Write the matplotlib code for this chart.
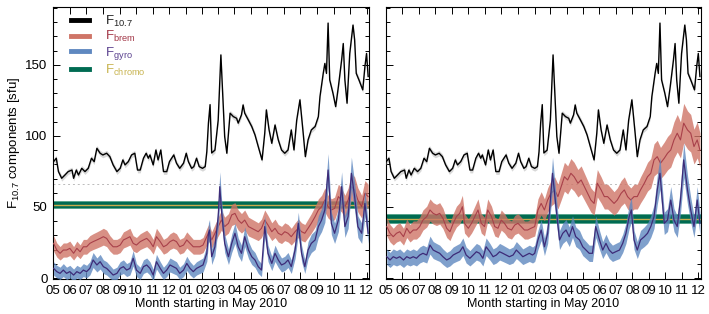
import matplotlib
matplotlib.use("Agg")
import matplotlib.pyplot as plt
from matplotlib.lines import Line2D
import numpy as np

plt.rcParams["font.family"] = ["Liberation Sans", "DejaVu Sans"]
plt.rcParams["mathtext.fontset"] = "custom"
plt.rcParams["mathtext.rm"] = "Liberation Sans"
plt.rcParams["mathtext.it"] = "Liberation Sans"

# ---- data (days since 1 May 2010, values in sfu) ----
f107_days = [1, 6, 10, 16, 22, 28, 35, 38, 43, 47, 53, 59, 65, 71, 76, 81, 87, 92, 99, 105,
             111, 118, 124, 129, 133, 139, 145, 151, 156, 161, 167, 172, 176, 179, 185, 190, 194, 199, 204, 210,
             215, 219, 223, 228, 234, 241, 246, 250, 256, 260, 265, 270, 276, 281, 284, 287, 290, 293, 299, 305,
             310, 317, 321, 327, 333, 339, 342, 348, 351, 354, 361, 367, 373, 379, 386, 391, 394, 399, 404, 410,
             416, 422, 428, 434, 440, 445, 450, 456, 462, 466, 471, 477, 484, 490, 493, 499, 502, 505, 508, 511,
             517, 522, 527, 533, 536, 539, 543, 548, 554, 557, 560, 565, 572, 576, 579, 582]
f107_vals = [81.9, 84.3, 74.9, 70.2, 72.5, 74.9, 76.0, 70.2, 76.0, 72.5, 77.2, 74.9, 77.2, 84.3, 81.9, 91.3, 87.8, 86.6, 87.8, 85.4,
             79.6, 74.9, 77.2, 83.1, 79.6, 81.9, 86.6, 87.8, 76.0, 76.0, 84.3, 87.8, 84.3, 86.6, 79.6, 90.1, 83.1, 90.1, 74.9, 74.9,
             81.9, 84.3, 86.6, 80.8, 77.2, 80.8, 87.8, 81.9, 77.2, 78.4, 84.3, 78.4, 77.2, 78.4, 88.9, 109.0, 122.0, 88.0, 90.0, 111.0,
             157.0, 99.5, 87.8, 116.0, 113.6, 112.4, 109.0, 114.8, 121.8, 116.0, 111.0, 106.6, 100.7, 92.5, 83.1, 101.9, 118.3, 104.2, 94.8, 107.7,
             97.2, 90.1, 87.8, 90.1, 104.2, 90.1, 111.0, 125.4, 101.9, 85.4, 97.2, 104.2, 106.6, 113.6, 127.7, 144.0, 151.0, 144.0, 179.4, 139.4,
             130.0, 120.6, 134.7, 153.5, 165.0, 139.4, 123.0, 158.0, 178.0, 167.6, 144.0, 139.4, 132.4, 148.8, 158.0, 141.8]

brem_left_days = [1, 7, 13, 19, 25, 31, 38, 44, 50, 56, 62, 68, 74, 81, 87, 93, 99, 105, 111, 118,
                  124, 130, 136, 142, 148, 154, 161, 167, 173, 179, 185, 191, 198, 204, 210, 216, 222, 228, 234, 241,
                  247, 253, 259, 265, 271, 277, 284, 288, 293, 299, 305, 311, 317, 324, 330, 336, 342, 348, 354, 361,
                  367, 373, 379, 385, 391, 397, 404, 410, 416, 422, 428, 434, 440, 447, 453, 459, 465, 471, 477, 484,
                  490, 496, 502, 508, 514, 520, 527, 533, 539, 545, 551, 557, 563, 570, 576, 582]
brem_left = [24.4, 19.7, 17.4, 19.7, 19.7, 20.9, 17.4, 20.9, 18.5, 22.0, 22.0, 24.4, 25.6, 26.8, 27.9, 29.1, 27.9, 24.4, 22.0, 22.0,
             23.2, 26.8, 27.9, 29.1, 24.4, 23.2, 25.6, 26.8, 27.9, 25.6, 22.0, 29.1, 25.6, 22.0, 23.2, 25.6, 26.8, 25.6, 22.0, 23.2,
             26.8, 24.4, 22.0, 22.0, 22.0, 23.2, 29.1, 32.0, 26.8, 31.5, 36.2, 40.8, 36.2, 38.5, 44.4, 45.5, 40.8, 38.5, 40.8, 36.2,
             35.0, 33.8, 32.6, 35.0, 40.8, 37.3, 32.6, 35.0, 31.5, 30.3, 32.6, 31.5, 29.1, 32.6, 35.0, 32.6, 31.5, 35.0, 38.5, 43.2,
             47.9, 50.2, 54.9, 50.2, 47.9, 49.0, 57.3, 54.9, 50.2, 54.9, 64.3, 62.0, 54.9, 50.2, 59.6, 57.3]

gyro_left_days = [1, 7, 13, 19, 25, 31, 38, 44, 50, 56, 62, 68, 74, 81, 87, 93, 99, 105, 111, 118,
                  124, 130, 136, 142, 148, 154, 161, 167, 173, 179, 185, 191, 198, 204, 210, 216, 222, 228, 234, 241,
                  247, 253, 259, 265, 271, 277, 284, 287, 289, 293, 299, 305, 308, 311, 317, 324, 330, 336, 342, 348,
                  354, 361, 367, 373, 379, 385, 391, 397, 404, 410, 416, 422, 428, 434, 440, 447, 453, 459, 465, 471,
                  477, 484, 490, 496, 502, 508, 514, 520, 527, 533, 539, 545, 551, 557, 563, 570, 576, 582]
gyro_left = [6.8, 4.5, 3.3, 5.6, 3.3, 4.5, 2.1, 4.5, 3.3, 5.6, 4.5, 6.8, 12.7, 9.2, 11.5, 8.0, 6.8, 4.5, 2.1, 3.3,
             6.8, 8.0, 5.6, 6.8, 13.9, 5.6, 3.3, 8.0, 9.2, 6.8, 2.1, 11.5, 6.8, 3.3, 5.6, 9.2, 8.0, 6.8, 3.3, 5.6,
             10.3, 6.8, 4.5, 6.8, 8.0, 9.2, 17.4, 31.5, 33.8, 15.0, 22.0, 43.2, 64.3, 47.9, 24.4, 15.0, 24.4, 31.5, 22.0, 17.4,
             29.1, 19.7, 15.0, 12.7, 8.0, 5.6, 36.2, 17.4, 10.3, 17.4, 12.7, 9.2, 10.3, 12.7, 8.0, 19.7, 38.5, 17.4, 8.0, 19.7,
             24.4, 26.8, 36.2, 40.8, 47.9, 76.0, 38.5, 31.5, 40.8, 64.3, 36.2, 43.2, 73.7, 57.3, 36.2, 31.5, 52.5, 31.5]

brem_right_days = [2, 8, 14, 20, 26, 33, 39, 45, 51, 57, 63, 69, 76, 82, 88, 94, 100, 106, 113, 119,
                   125, 131, 137, 142, 146, 153, 159, 165, 171, 177, 183, 189, 196, 202, 208, 214, 220, 226, 233, 239,
                   245, 251, 257, 263, 269, 276, 282, 288, 294, 300, 306, 313, 319, 325, 331, 337, 343, 349, 356, 362,
                   368, 374, 380, 386, 392, 399, 405, 411, 417, 423, 429, 436, 442, 448, 454, 460, 466, 472, 479, 485,
                   491, 497, 503, 509, 516, 522, 528, 534, 540, 546, 552, 559, 565, 571, 577, 582]
brem_right = [36.2, 31.5, 29.1, 31.5, 32.6, 29.1, 35.0, 31.5, 33.8, 33.8, 36.2, 40.8, 43.2, 47.9, 45.5, 44.4, 45.5, 42.0, 35.0, 32.6,
              38.5, 43.2, 45.5, 50.2, 38.5, 35.0, 38.5, 43.2, 47.9, 38.5, 36.2, 47.9, 43.2, 36.2, 35.0, 40.8, 38.5, 35.0, 33.8, 37.3,
              38.5, 36.2, 33.8, 33.8, 35.0, 36.2, 47.9, 52.5, 47.9, 54.9, 59.6, 62.0, 57.3, 64.3, 71.3, 69.0, 73.7, 71.3, 66.7, 69.0,
              64.3, 59.6, 54.9, 52.5, 66.7, 62.0, 57.3, 57.3, 54.9, 52.5, 54.9, 59.6, 62.0, 57.3, 54.9, 57.3, 57.3, 62.0, 66.7, 71.3,
              73.7, 83.1, 85.4, 80.8, 84.3, 87.8, 90.1, 97.2, 101.9, 97.2, 109.0, 104.2, 101.9, 92.5, 97.2, 90.1]

gyro_right_days = [2, 8, 14, 20, 26, 33, 39, 45, 51, 57, 63, 69, 76, 82, 88, 94, 100, 106, 113, 119,
                   125, 131, 137, 143, 149, 156, 162, 168, 174, 180, 186, 193, 199, 205, 211, 217, 223, 229, 236, 242,
                   248, 254, 260, 266, 272, 276, 282, 288, 294, 300, 309, 316, 322, 328, 334, 340, 346, 352, 359, 365,
                   371, 377, 383, 389, 396, 402, 408, 414, 420, 426, 433, 439, 445, 451, 455, 460, 466, 472, 479, 485,
                   491, 497, 503, 508, 516, 522, 528, 534, 540, 546, 552, 559, 565, 571, 577, 582]
gyro_right = [15.0, 12.7, 15.0, 13.9, 15.0, 12.7, 15.0, 13.9, 15.0, 13.9, 16.2, 17.4, 16.2, 23.2, 19.7, 18.5, 17.4, 15.0, 12.7, 13.9,
              16.2, 17.4, 18.5, 22.0, 16.2, 13.9, 16.2, 18.5, 17.4, 13.9, 22.0, 18.5, 15.0, 16.2, 18.5, 17.4, 16.2, 15.0, 16.2, 19.7,
              17.4, 15.0, 16.2, 17.4, 16.2, 17.4, 26.8, 33.8, 22.0, 31.5, 73.7, 47.9, 26.8, 31.5, 33.8, 29.1, 36.2, 29.1, 26.8, 22.0,
              19.7, 17.4, 17.4, 36.2, 26.8, 19.7, 24.4, 19.7, 17.4, 18.5, 19.7, 24.4, 31.5, 43.2, 47.9, 26.8, 19.7, 26.8, 29.1, 31.5,
              36.2, 43.2, 62.0, 73.7, 38.5, 40.8, 54.9, 40.8, 36.2, 54.9, 83.1, 62.0, 47.9, 36.2, 54.9, 38.5]

chromo_left, chromo_left_err = 51.6, 2.8
chromo_right, chromo_right_err = 41.5, 3.7
f107_err = 2.0
quiet_level = 66.0

month_days = [0, 31, 61, 92, 123, 153, 184, 214, 245, 276, 304, 335, 365, 396, 426, 457, 488, 518, 549, 579]
month_labels = ["05", "06", "07", "08", "09", "10", "11", "12", "01", "02",
                "03", "04", "05", "06", "07", "08", "09", "10", "11", "12"]

# ---- colours ----
c_brem_fill, c_brem_line = "#cf7567", "#a8404a"
c_gyro_fill, c_gyro_line = "#5f88c0", "#3d2b78"
c_chromo_fill, c_chromo_edge, c_chromo_line = "#006b52", "#5aa58e", "#c8ac4c"


def draw_panel(ax, brem_d, brem, gyro_d, gyro, chromo, chromo_err):
    ax.axhline(quiet_level, color="#bbbbbb", lw=0.7, ls=(0, (2, 3)), zorder=1)

    # chromospheric component: constant band
    ax.axhspan(chromo - chromo_err, chromo + chromo_err, color=c_chromo_edge, lw=0, zorder=2)
    ax.axhspan(chromo - chromo_err * 0.78, chromo + chromo_err * 0.78, color=c_chromo_fill, lw=0, zorder=2)
    ax.axhline(chromo, color=c_chromo_line, lw=1.0, zorder=2)

    # bremsstrahlung
    b = np.array(brem)
    berr = 0.1 * b + 3.0
    ax.fill_between(brem_d, b - berr, b + berr, color=c_brem_fill, alpha=0.8, lw=0, zorder=3)
    ax.plot(brem_d, b, color=c_brem_line, lw=0.8, zorder=4)

    # gyroresonance
    g = np.array(gyro)
    gerr = 0.1 * g + 4.0
    ax.fill_between(gyro_d, g - gerr, g + gerr, color=c_gyro_fill, alpha=0.8, lw=0, zorder=5)
    ax.plot(gyro_d, g, color=c_gyro_line, lw=0.9, zorder=6)

    # observed F10.7
    f = np.array(f107_vals)
    ax.fill_between(f107_days, f - f107_err, f + f107_err, color="#d8d8d8", lw=0, zorder=6)
    ax.plot(f107_days, f, color="black", lw=1.0, zorder=7)

    ax.set_xlim(0, 584)
    ax.set_ylim(-1, 191)
    ax.set_xticks(month_days)
    ax.set_xticklabels(month_labels)
    ax.set_yticks([0, 50, 100, 150])
    ax.set_yticks(np.arange(0, 191, 10), minor=True)
    ax.tick_params(which="both", direction="in", top=True, right=True, labelsize=9.5, pad=4)
    ax.tick_params(which="major", length=5, width=0.7)
    ax.tick_params(which="minor", length=3, width=0.7)
    ax.tick_params(axis="x", which="minor", bottom=False, top=False)
    for s in ax.spines.values():
        s.set_linewidth(0.8)
    ax.set_xlabel("Month starting in May 2010", fontsize=9, labelpad=1)


fig = plt.figure(figsize=(7.09, 3.14), dpi=100)
ax1 = fig.add_axes([0.0748, 0.110, 0.446, 0.869])
ax2 = fig.add_axes([0.5440, 0.110, 0.4447, 0.869])

draw_panel(ax1, brem_left_days, brem_left, gyro_left_days, gyro_left, chromo_left, chromo_left_err)
draw_panel(ax2, brem_right_days, brem_right, gyro_right_days, gyro_right, chromo_right, chromo_right_err)
ax2.set_yticklabels([])
ax1.set_ylabel(r"F$_{10.7}$ components [sfu]", fontsize=9.5, labelpad=2)

handles = [Line2D([], [], color="black", lw=3.5),
           Line2D([], [], color=c_brem_fill, lw=3.5),
           Line2D([], [], color=c_gyro_fill, lw=3.5),
           Line2D([], [], color=c_chromo_fill, lw=3.5)]
labels = [r"F$_{\rm 10.7}$", r"F$_{\rm brem}$", r"F$_{\rm gyro}$", r"F$_{\rm chromo}$"]
leg = ax1.legend(handles, labels, loc="upper left", frameon=False, fontsize=9.5,
                 handlelength=1.4, handletextpad=1.2, labelspacing=0.05,
                 borderaxespad=0, borderpad=0, bbox_to_anchor=(0.056, 0.975))
for t, c in zip(leg.get_texts(), ["#222222", "#a33848", "#5c4390", "#c8b450"]):
    t.set_color(c)

fig.savefig("out.png", dpi=100)
